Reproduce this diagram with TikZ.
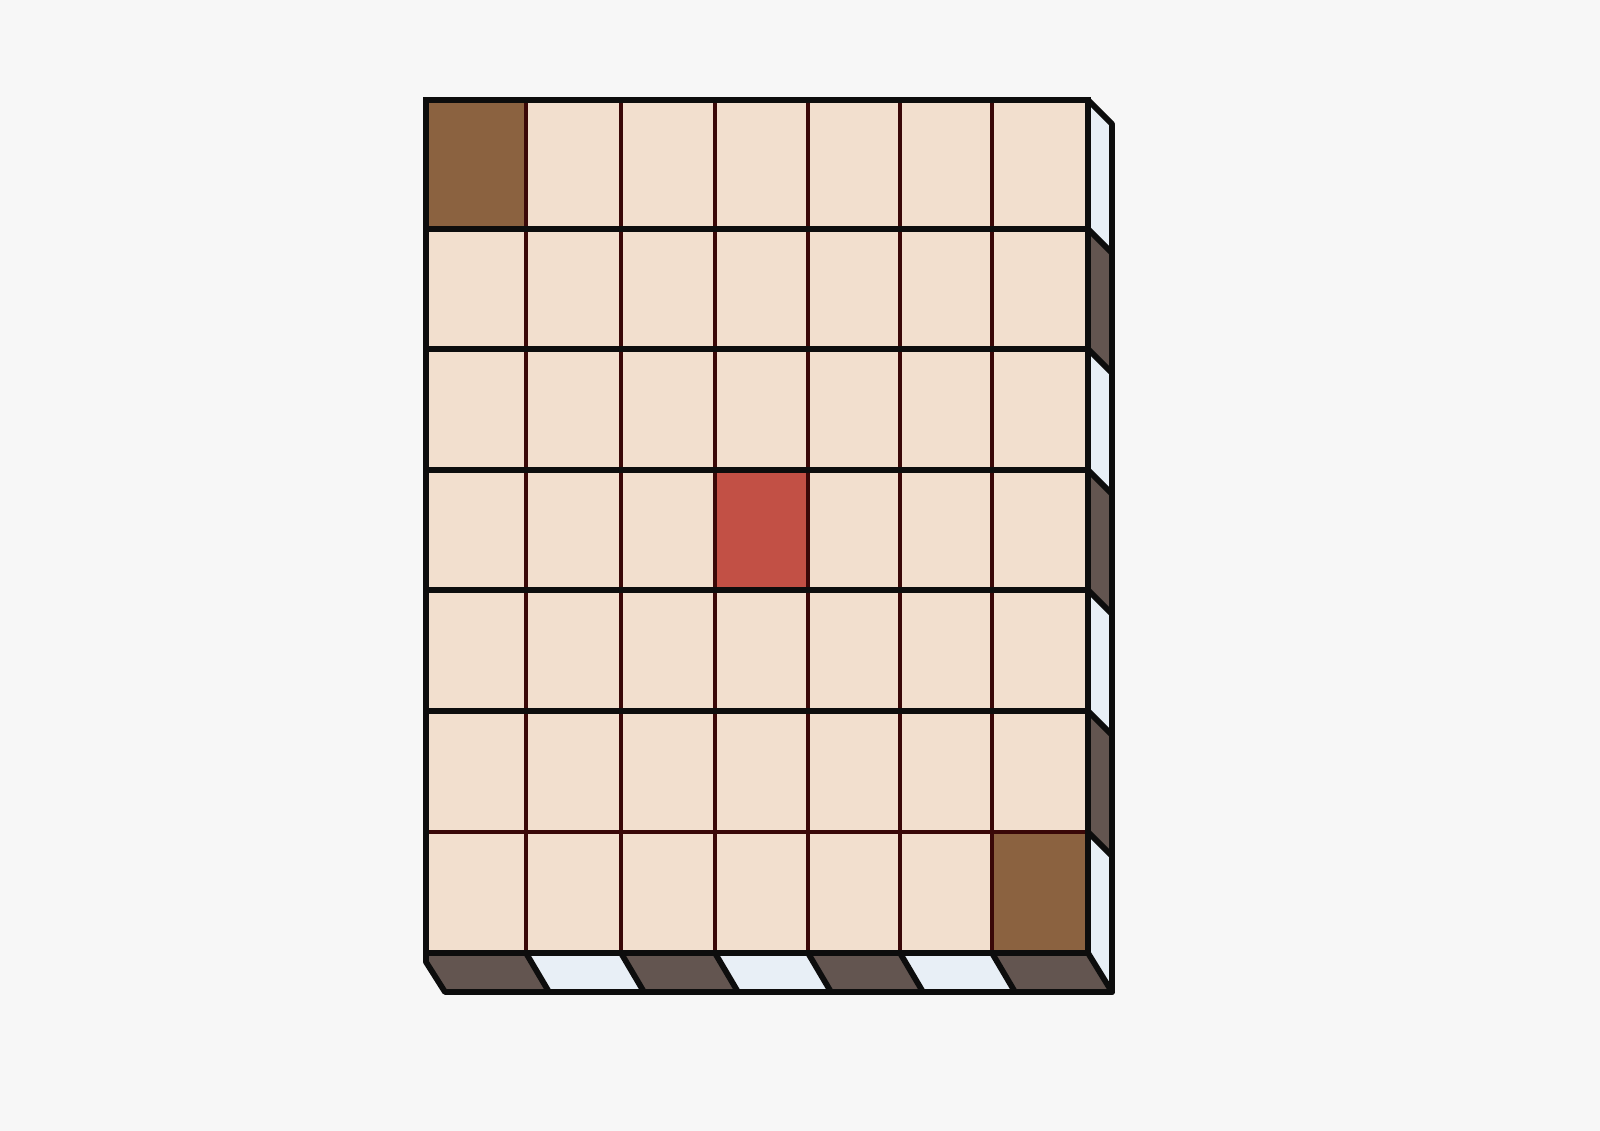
\documentclass[tikz,border=0pt]{standalone}
\definecolor{bgcol}{HTML}{F7F7F7}
\definecolor{cellcol}{HTML}{F2DFCE}
\definecolor{browncol}{HTML}{8B6240}
\definecolor{redcol}{HTML}{C25045}
\definecolor{darkside}{HTML}{635550}
\definecolor{lightside}{HTML}{E8EFF6}
\definecolor{gridred}{HTML}{3A0808}
\begin{document}
\begin{tikzpicture}[x=0.01cm, y=-0.01cm,
    thickline/.style={line width=1.65pt, draw=black!95, line join=round, line cap=round},
    thinline/.style={line width=0.95pt, draw=gridred},
  ]
  \fill[bgcol] (0,0) rectangle (1600,1131);
  \useasboundingbox (0,0) rectangle (1600,1131);

  % right face, light and dark bands
  \foreach \ya/\yb/\yc [count=\i] in {100/229/253, 229/349/373, 349/470/494,
      470/590/614, 590/711/735, 711/832/856, 832/953/992} {
    \ifodd\i \def\sidecol{lightside}\else \def\sidecol{darkside}\fi
    \fill[\sidecol] (1088,\ya) -- (1112,\ya+24) -- (1112,\yc) -- (1088,\yb) -- cycle;
    \draw[thickline] (1088,\ya) -- (1112,\ya+24);
  }

  % bottom face
  \fill[darkside] (426,953) -- (526,953) -- (549,992) -- (445,992) -- (426,962) -- cycle;
  \foreach \xa/\xb [count=\j] in {526/621, 621/715, 715/808,
      808/900, 900/992, 992/1088} {
    \ifodd\j \def\sidecol{lightside}\else \def\sidecol{darkside}\fi
    \fill[\sidecol] (\xa,953) -- (\xb,953) -- (\xb+23,992) -- (\xa+23,992) -- cycle;
  }
  \foreach \xa in {526,621,715,808,900,992}
    \draw[thickline] (\xa,953) -- (\xa+23,992);
  \draw[thickline] (426,953) -- (426,962) -- (445,992) -- (1112,992) -- (1112,125);
  \draw[thickline] (1088,953) -- (1112,992);

  % front grid
  \fill[cellcol] (426,100) rectangle (1088,953);
  \fill[browncol] (426,100) rectangle (526,229);
  \fill[browncol] (992,832) rectangle (1088,953);
  \fill[redcol] (715,470) rectangle (808,590);
  \foreach \x in {526,621,715,808,900,992}
    \draw[thinline] (\x,100) -- (\x,953);
  \draw[thinline] (426,832) -- (1088,832);
  \foreach \y in {229,349,470,590,711}
    \draw[thickline] (426,\y) -- (1088,\y);
  \draw[thickline, line join=miter] (426,100) rectangle (1088,953);
\end{tikzpicture}
\end{document}
